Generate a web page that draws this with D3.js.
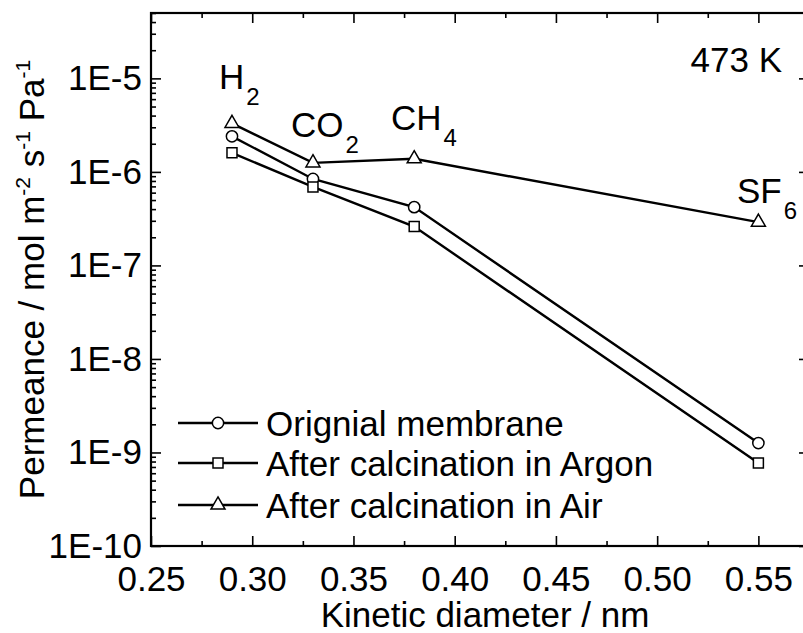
<!DOCTYPE html>
<html>
<head>
<meta charset="utf-8">
<script src="https://cdn.jsdelivr.net/npm/d3@7"></script>
<style>
  body { margin: 0; background: #fff; }
  text { font-family: "Liberation Sans", Arial, sans-serif; fill: #000; }
</style>
</head>
<body>
<svg id="chart" width="803" height="633"></svg>
<script>
// kinetic diameters (nm) of the gases
const diameters = [0.29, 0.33, 0.38, 0.55];
const gasNames = ['H', 'CO', 'CH', 'SF'];
const gasSubs = ['2', '2', '4', '6'];

// permeance, mol m-2 s-1 Pa-1
const original = [2.4e-6, 8.4e-7, 4.2e-7, 1.26e-9];
const argon = [1.6e-6, 6.9e-7, 2.6e-7, 7.7e-10];
const air = [3.3e-6, 1.25e-6, 1.38e-6, 2.9e-7];

const seriesNames = ['Orignial membrane', 'After calcination in Argon', 'After calcination in Air'];
const xTickValues = [0.25, 0.30, 0.35, 0.40, 0.45, 0.50, 0.55];
const yTickValues = [1e-10, 1e-9, 1e-8, 1e-7, 1e-6, 1e-5];

const svg = d3.select('#chart');
const plotLeft = 151, plotRight = 809, plotTop = 13, plotBottom = 546;
const fontSize = 35;

const x = d3.scaleLinear().domain([0.25, 0.575]).range([plotLeft, plotRight]);
const y = d3.scaleLog().domain([1e-10, 5e-5]).range([plotBottom, plotTop]);

// minor tick values
const xMinor = d3.range(0.275, 0.575, 0.05);
const yMinor = [];
for (let k = -10; k <= -5; k++) {
    for (let m = 2; m <= 9; m++) {
        const v = m * Math.pow(10, k);
        if (v <= 5e-5) yMinor.push(v);
    }
}

function styleAxis(g) {
    g.select('.domain').remove();
    g.selectAll('line').attr('stroke', '#000').attr('stroke-width', 1.6);
    g.selectAll('text').style('font-size', fontSize + 'px').attr('fill', '#000');
}

// bottom axis
svg.append('g')
    .attr('transform', 'translate(0,' + plotBottom + ')')
    .call(d3.axisBottom(x).tickValues(xTickValues).tickSize(-10).tickPadding(20)
        .tickFormat(d3.format('.2f')))
    .call(styleAxis)
    .selectAll('text').attr('dy', '0.71em').attr('y', 20);
svg.append('g')
    .attr('transform', 'translate(0,' + plotBottom + ')')
    .call(d3.axisBottom(x).tickValues(xMinor).tickSize(-5).tickFormat(''))
    .call(styleAxis);

// top axis
svg.append('g')
    .attr('transform', 'translate(0,' + plotTop + ')')
    .call(d3.axisTop(x).tickValues(xTickValues).tickSize(-10).tickFormat(''))
    .call(styleAxis);
svg.append('g')
    .attr('transform', 'translate(0,' + plotTop + ')')
    .call(d3.axisTop(x).tickValues(xMinor).tickSize(-5).tickFormat(''))
    .call(styleAxis);

// left axis
svg.append('g')
    .attr('transform', 'translate(' + plotLeft + ',0)')
    .call(d3.axisLeft(y).tickValues(yTickValues).tickSize(-10).tickPadding(9)
        .tickFormat(d => '1E' + Math.round(Math.log10(d))))
    .call(styleAxis);
svg.append('g')
    .attr('transform', 'translate(' + plotLeft + ',0)')
    .call(d3.axisLeft(y).tickValues(yMinor).tickSize(-5).tickFormat(''))
    .call(styleAxis);

// right axis
svg.append('g')
    .attr('transform', 'translate(' + plotRight + ',0)')
    .call(d3.axisRight(y).tickValues(yTickValues).tickSize(-10).tickFormat(''))
    .call(styleAxis);
svg.append('g')
    .attr('transform', 'translate(' + plotRight + ',0)')
    .call(d3.axisRight(y).tickValues(yMinor).tickSize(-5).tickFormat(''))
    .call(styleAxis);

// frame
svg.append('rect')
    .attr('x', plotLeft)
    .attr('y', plotTop)
    .attr('width', plotRight - plotLeft)
    .attr('height', plotBottom - plotTop)
    .attr('fill', 'none')
    .attr('stroke', '#000')
    .attr('stroke-width', 2.2);

// axis titles
svg.append('text')
    .attr('x', 485)
    .attr('y', 627)
    .attr('text-anchor', 'middle')
    .style('font-size', fontSize + 'px')
    .text('Kinetic diameter / nm');

const yTitle = svg.append('text')
    .attr('transform', 'translate(44,' + ((plotTop + plotBottom) / 2) + ') rotate(-90)')
    .attr('text-anchor', 'middle')
    .style('font-size', fontSize + 'px');
yTitle.append('tspan').text('Permeance / mol m');
yTitle.append('tspan').attr('dy', -14).style('font-size', '21px').text('-2');
yTitle.append('tspan').attr('dy', 14).text(' s');
yTitle.append('tspan').attr('dy', -14).style('font-size', '21px').text('-1');
yTitle.append('tspan').attr('dy', 14).text(' Pa');
yTitle.append('tspan').attr('dy', -14).style('font-size', '21px').text('-1');

// series
const symbols = [d3.symbolCircle, d3.symbolSquare, d3.symbolTriangle];
const symbolSizes = [100, 100, 85];
const allSeries = [original, argon, air];

const lineGen = d3.line()
    .x((d, i) => x(diameters[i]))
    .y(d => y(d));

allSeries.forEach((values, s) => {
    svg.append('path')
        .attr('d', lineGen(values))
        .attr('stroke', '#000')
        .attr('stroke-width', 2.4)
        .attr('fill', 'none');

    svg.selectAll('.pt' + s)
        .data(values)
        .enter()
        .append('path')
        .attr('class', 'pt' + s)
        .attr('d', d3.symbol().type(symbols[s]).size(symbolSizes[s]))
        .attr('transform', (d, i) => 'translate(' + x(diameters[i]) + ',' + y(d) + ')')
        .attr('fill', '#fff')
        .attr('stroke', '#000')
        .attr('stroke-width', 1.5);
});

// gas labels
const labelPos = [[219, 89], [291, 137], [391, 130], [737, 203]];
gasNames.forEach((name, i) => {
    const t = svg.append('text')
        .attr('x', labelPos[i][0])
        .attr('y', labelPos[i][1])
        .style('font-size', fontSize + 'px');
    t.append('tspan').text(name);
    t.append('tspan').attr('dx', 2).attr('dy', 16).style('font-size', '24px').text(gasSubs[i]);
});

svg.append('text')
    .attr('x', 782)
    .attr('y', 72)
    .attr('text-anchor', 'end')
    .style('font-size', fontSize + 'px')
    .text('473 K');

// legend
const legendY = [423, 463, 505];
seriesNames.forEach((name, s) => {
    svg.append('line')
        .attr('x1', 178).attr('x2', 258)
        .attr('y1', legendY[s]).attr('y2', legendY[s])
        .attr('stroke', '#000')
        .attr('stroke-width', 2.4);
    svg.append('path')
        .attr('d', d3.symbol().type(symbols[s]).size(symbolSizes[s]))
        .attr('transform', 'translate(218,' + legendY[s] + ')')
        .attr('fill', '#fff')
        .attr('stroke', '#000')
        .attr('stroke-width', 1.5);
    svg.append('text')
        .attr('x', 266)
        .attr('y', legendY[s])
        .attr('dy', '0.36em')
        .style('font-size', fontSize + 'px')
        .text(name);
});
</script>
</body>
</html>
